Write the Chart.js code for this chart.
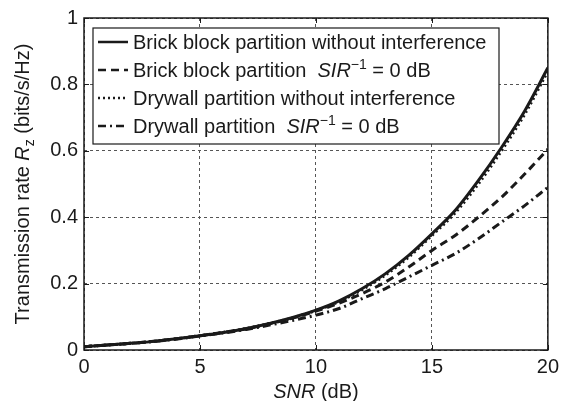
<!DOCTYPE html>
<html>
<head>
<meta charset="utf-8">
<script src="https://cdn.jsdelivr.net/npm/chart.js@4.4.1/dist/chart.umd.min.js"></script>
<style>
  html, body { margin: 0; padding: 0; background: #fff; }
  #wrap { width: 564px; height: 401px; }
</style>
</head>
<body>
<div id="wrap"><canvas id="chart"></canvas></div>
<script>
// values, 1 dB steps
const snr = [0, 1, 2, 3, 4, 5, 6, 7, 8, 9, 10, 11, 12, 13, 14, 15, 16, 17, 18, 19, 20];
const brickClean = [0.010, 0.015, 0.020, 0.026, 0.034, 0.043, 0.053, 0.065, 0.080, 0.098, 0.120, 0.148, 0.185, 0.230, 0.285, 0.350, 0.420, 0.510, 0.610, 0.720, 0.850];
const brickSir0 = [0.010, 0.015, 0.020, 0.026, 0.034, 0.043, 0.053, 0.064, 0.079, 0.096, 0.117, 0.141, 0.170, 0.205, 0.250, 0.300, 0.345, 0.400, 0.460, 0.530, 0.605];
const drywallClean = [0.010, 0.015, 0.020, 0.026, 0.034, 0.043, 0.053, 0.065, 0.080, 0.097, 0.119, 0.146, 0.182, 0.226, 0.280, 0.345, 0.413, 0.500, 0.600, 0.710, 0.840];
const drywallSir0 = [0.010, 0.015, 0.020, 0.026, 0.033, 0.042, 0.051, 0.062, 0.075, 0.089, 0.105, 0.125, 0.155, 0.185, 0.220, 0.255, 0.290, 0.335, 0.385, 0.435, 0.490];

const xTicks = [0, 5, 10, 15, 20];
const yTicks = [0, 0.2, 0.4, 0.6, 0.8, 1];

// legend / title text, pieces with italics and super/subscripts
const legendLabels = [
  [{ t: 'Brick block partition without interference' }],
  [{ t: 'Brick block partition  ' }, { t: 'SIR', i: true }, { t: '\u22121', sup: true }, { t: ' = 0 dB' }],
  [{ t: 'Drywall partition without interference' }],
  [{ t: 'Drywall partition  ' }, { t: 'SIR', i: true }, { t: '\u22121', sup: true }, { t: ' = 0 dB' }],
];
const xTitle = [{ t: 'SNR', i: true }, { t: ' (dB)' }];
const yTitle = [{ t: 'Transmission rate ' }, { t: 'R', i: true }, { t: 'z', sub: true }, { t: ' (bits/s/Hz)' }];

const FONT = '"Liberation Sans", Arial, Helvetica, sans-serif';
const FS = 20;
const INK = '#1a1a1a';

const dashes = [[], [8, 5], [2, 3], [8, 4, 2, 4]];
const series = [brickClean, brickSir0, drywallClean, drywallSir0];

function font(p) {
  const size = (p.sup || p.sub) ? Math.round(FS * 0.7) : FS;
  return (p.i ? 'italic ' : '') + size + 'px ' + FONT;
}
function richWidth(ctx, parts) {
  let w = 0;
  parts.forEach(p => { ctx.font = font(p); w += ctx.measureText(p.t).width; });
  return w;
}
function drawRich(ctx, parts, x, y) {
  ctx.textBaseline = 'alphabetic';
  ctx.textAlign = 'left';
  parts.forEach(p => {
    ctx.font = font(p);
    let dy = 0;
    if (p.sup) dy = -FS * 0.42;
    if (p.sub) dy = FS * 0.25;
    ctx.fillText(p.t, x, y + dy);
    x += ctx.measureText(p.t).width;
  });
}

const framePlugin = {
  id: 'frame',
  afterDatasetsDraw(chart) {
    const { ctx, chartArea: a, scales } = chart;
    ctx.save();
    ctx.strokeStyle = INK;
    ctx.lineWidth = 1;
    // inward tick marks
    ctx.beginPath();
    xTicks.forEach(v => {
      const px = Math.round(scales.x.getPixelForValue(v)) + 0.5;
      ctx.moveTo(px, a.bottom); ctx.lineTo(px, a.bottom - 5);
      ctx.moveTo(px, a.top); ctx.lineTo(px, a.top + 5);
    });
    yTicks.forEach(v => {
      const py = Math.round(scales.y.getPixelForValue(v)) + 0.5;
      ctx.moveTo(a.left, py); ctx.lineTo(a.left + 5, py);
      ctx.moveTo(a.right, py); ctx.lineTo(a.right - 5, py);
    });
    ctx.stroke();
    ctx.lineWidth = 1.5;
    ctx.strokeRect(a.left, a.top, a.right - a.left, a.bottom - a.top);

    // legend box
    const bx = a.left + 9, by = a.top + 10, bw = 406, bh = 116;
    ctx.fillStyle = '#fff';
    ctx.fillRect(bx, by, bw, bh);
    ctx.lineWidth = 1.2;
    ctx.strokeRect(bx, by, bw, bh);
    chart.data.datasets.forEach((ds, k) => {
      const cy = by + 14 + k * 28;
      ctx.beginPath();
      ctx.setLineDash(ds.borderDash || []);
      ctx.lineWidth = 2.5;
      ctx.moveTo(bx + 5, cy); ctx.lineTo(bx + 35, cy);
      ctx.stroke();
      ctx.setLineDash([]);
      ctx.fillStyle = INK;
      drawRich(ctx, legendLabels[k], bx + 40, cy + 7);
    });

    // axis titles
    ctx.fillStyle = INK;
    const cx = (a.left + a.right) / 2;
    drawRich(ctx, xTitle, cx - richWidth(ctx, xTitle) / 2, 398);
    ctx.save();
    ctx.translate(29, (a.top + a.bottom) / 2);
    ctx.rotate(-Math.PI / 2);
    drawRich(ctx, yTitle, -richWidth(ctx, yTitle) / 2, 0);
    ctx.restore();
    ctx.restore();
  }
};

new Chart(document.getElementById('chart'), {
  type: 'line',
  data: {
    datasets: series.map((vals, k) => ({
      label: legendLabels[k].map(p => p.t).join(''),
      data: snr.map((x, j) => ({ x, y: vals[j] })),
      borderColor: INK,
      borderWidth: 3,
      borderDash: dashes[k],
      pointRadius: 0,
      cubicInterpolationMode: 'monotone',
      fill: false,
    })),
  },
  options: {
    responsive: true,
    maintainAspectRatio: false,
    animation: false,
    devicePixelRatio: 1,
    layout: { padding: { top: 17, right: 12, left: 0, bottom: 0 } },
    plugins: { legend: { display: false }, tooltip: { enabled: false } },
    scales: {
      x: {
        type: 'linear',
        min: 0,
        max: 20,
        afterFit(scale) { scale.height = 51; },
        afterBuildTicks(scale) { scale.ticks = xTicks.map(v => ({ value: v })); },
        ticks: { font: { family: FONT, size: FS }, color: INK, padding: 5, maxRotation: 0 },
        grid: { color: '#555', lineWidth: 1, drawTicks: false },
        border: { display: false, dash: [3, 3] },
      },
      y: {
        min: 0,
        max: 1,
        afterFit(scale) { scale.width = 84; },
        afterBuildTicks(scale) { scale.ticks = yTicks.map(v => ({ value: v })); },
        ticks: {
          font: { family: FONT, size: FS }, color: INK, padding: 6,
          callback: v => String(+v.toFixed(1)),
        },
        grid: { color: '#555', lineWidth: 1, drawTicks: false },
        border: { display: false, dash: [3, 3] },
      },
    },
  },
  plugins: [framePlugin],
});
</script>
</body>
</html>
